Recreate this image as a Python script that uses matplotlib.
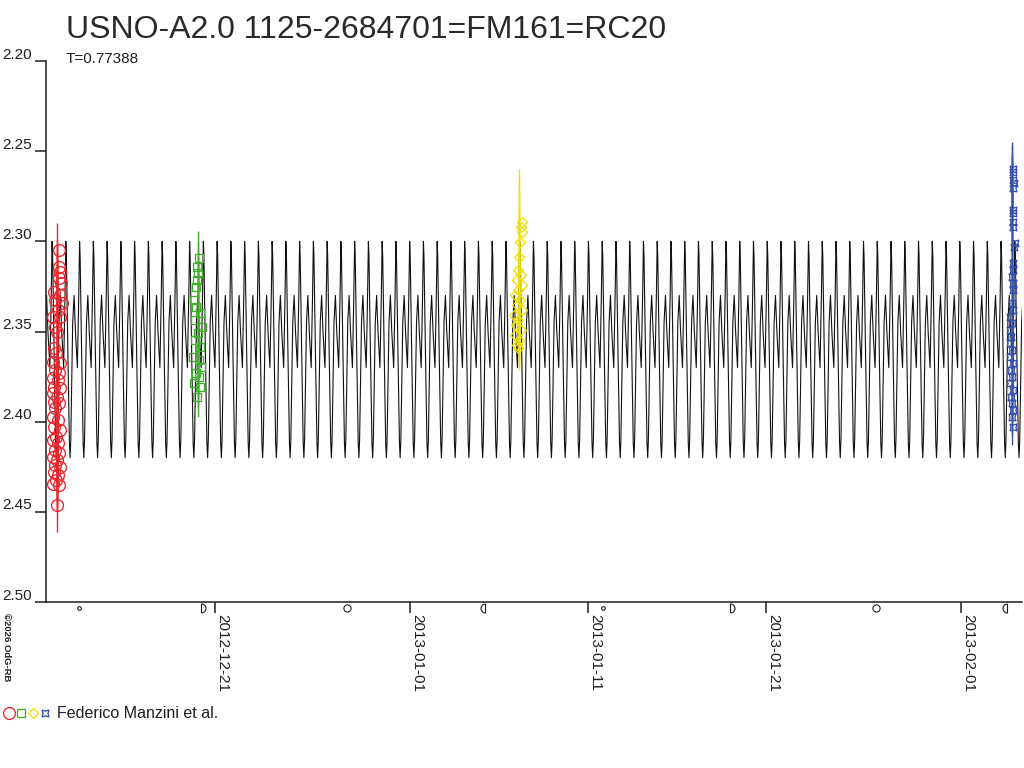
import numpy as np
import pandas as pd
import matplotlib
matplotlib.use("Agg")
import matplotlib.pyplot as plt
import matplotlib.dates as mdates
import matplotlib.transforms as mtransforms
from matplotlib.path import Path
from matplotlib.lines import Line2D

plt.rcParams['font.family'] = ['Liberation Sans', 'DejaVu Sans']

# ---------------- data ----------------
title = "USNO-A2.0 1125-2684701=FM161=RC20"
period_label = "T=0.77388"
period = 0.77388
observer = "Federico Manzini et al."
credit = "\u00a92026 OdG-RB"
base_date = "2012-12-01"          # times below are days since this date

x_range = [10.49, 65.41]
y_ticks = [2.20, 2.25, 2.30, 2.35, 2.40, 2.45, 2.50]
x_tick_labels = ["2012-12-21", "2013-01-01", "2013-01-11", "2013-01-21", "2013-02-01"]

# model light curve: one cycle template (phase, mag), epoch of main maximum
model_epoch = 22.44
model_phase = [0.00, 0.04, 0.15, 0.26, 0.31, 0.36, 0.50, 0.60, 0.70, 0.84, 0.94, 1.00]
model_mag = [2.300, 2.308, 2.362, 2.412, 2.420, 2.410, 2.345, 2.330, 2.350, 2.370, 2.330, 2.300]

red_t = [11.240, 11.240, 11.277, 11.240, 11.315, 10.940, 11.277, 10.996, 11.371, 11.183,
         10.902, 11.277, 10.996, 11.090, 10.940, 11.052, 10.865, 11.277, 10.996, 11.240,
         10.902, 11.183, 10.940, 11.277, 10.865, 11.090, 10.940, 11.240, 10.996, 10.865,
         11.183, 10.940, 11.277, 11.052, 10.902, 11.183, 10.996, 11.240, 10.902, 11.127,
         10.996, 11.277, 10.940, 11.183, 11.052, 10.902, 11.240, 11.090]
red_mag = [2.3048, 2.3141, 2.3168, 2.3205, 2.3233, 2.3279, 2.3298, 2.3326, 2.3344, 2.3381,
           2.3418, 2.3418, 2.3473, 2.3501, 2.3594, 2.3621, 2.3668, 2.3677, 2.3714, 2.3732,
           2.3760, 2.3769, 2.3806, 2.3815, 2.3843, 2.3862, 2.3889, 2.3899, 2.3926, 2.3972,
           2.3991, 2.4028, 2.4046, 2.4083, 2.4102, 2.4120, 2.4157, 2.4176, 2.4194, 2.4213,
           2.4241, 2.4250, 2.4278, 2.4296, 2.4324, 2.4343, 2.4352, 2.4463]
red_err = [0.015] * 48

green_t = [19.12, 19.01, 19.06, 18.97, 18.93, 18.82, 18.93, 19.16, 18.88, 19.25, 19.06,
           18.88, 19.16, 18.78, 19.12, 19.19, 18.93, 19.12, 18.82, 19.16, 18.97]
green_mag = [2.3095, 2.3141, 2.3178, 2.3215, 2.3252, 2.3326, 2.3363, 2.3400, 2.3437, 2.3473,
             2.3510, 2.3547, 2.3584, 2.3640, 2.3658, 2.3695, 2.3732, 2.3751, 2.3788, 2.3806,
             2.3862]
green_err = [0.015, 0.014, 0.013, 0.013, 0.012, 0.012, 0.012, 0.012, 0.012, 0.012, 0.012,
             0.012, 0.012, 0.012, 0.012, 0.012, 0.012, 0.012, 0.012, 0.012, 0.011]

yellow_t = [37.26, 37.20, 37.26, 37.16, 37.13, 37.07, 37.20, 36.98, 37.26, 37.07, 36.88,
            37.16, 36.98, 37.26, 36.83, 37.07, 36.93, 37.20, 36.88, 37.13, 36.98, 37.07]
yellow_mag = [2.2891, 2.2919, 2.2946, 2.3002, 2.3085, 2.3159, 2.3187, 2.3214, 2.3242, 2.3270,
              2.3298, 2.3325, 2.3353, 2.3381, 2.3408, 2.3436, 2.3464, 2.3492, 2.3519, 2.3547,
              2.3575, 2.3593]
yellow_err = [0.029, 0.026, 0.022, 0.018, 0.015, 0.012, 0.012, 0.012, 0.012, 0.012, 0.012,
              0.012, 0.012, 0.012, 0.012, 0.012, 0.012, 0.012, 0.012, 0.012, 0.012, 0.012]

blue_t = [64.93, 64.93, 64.93, 64.96, 64.93, 64.93, 64.90, 64.93, 64.93, 65.02, 64.96, 64.90,
          64.93, 64.83, 64.93, 64.90, 64.83, 64.93, 64.74, 64.83, 64.71, 64.78, 64.71, 64.83,
          64.74, 64.93, 64.78, 64.83, 64.74, 64.90, 64.78, 64.83, 64.93, 64.83, 64.90]
blue_mag = [2.2601, 2.2614, 2.2660, 2.2679, 2.2706, 2.2827, 2.2845, 2.2891, 2.2919, 2.3011,
            2.3030, 2.3122, 2.3159, 2.3196, 2.3233, 2.3270, 2.3344, 2.3381, 2.3418, 2.3455,
            2.3492, 2.3529, 2.3566, 2.3603, 2.3640, 2.3677, 2.3714, 2.3751, 2.3788, 2.3825,
            2.3862, 2.3899, 2.3936, 2.3973, 2.4028]
blue_err = [0.015] * 10 + [0.010] * 25

moon_new = ["2012-12-13 08:42", "2013-01-11 19:44"]
moon_first = ["2012-12-20 05:19", "2013-01-18 23:45"]
moon_full = ["2012-12-28 10:21", "2013-01-27 04:38"]
moon_last = ["2013-01-05 03:58", "2013-02-03 13:56"]

# ---------------- styles ----------------
RED, GREEN, YELLOW, BLUE = "#e8262c", "#3fae2a", "#f0e000", "#3550a6"
INK = "#1e1e1e"
base = mdates.date2num(pd.Timestamp(base_date).to_pydatetime())


def tx(t):
    return base + np.asarray(t, dtype=float)


def dnum(lst):
    return mdates.date2num(pd.to_datetime(lst).to_pydatetime())


fig = plt.figure(figsize=(10.24, 7.68), dpi=100)
L, R, T, B = 46, 1022, 61, 602
ax = fig.add_axes([L / 1024, 1 - B / 768, (R - L) / 1024, (B - T) / 768])

# model curve
n0 = int(np.floor((x_range[0] - model_epoch) / period)) - 1
n1 = int(np.ceil((x_range[1] - model_epoch) / period)) + 1
cyc = np.arange(n0, n1 + 1)
ph = np.array(model_phase[:-1])
mg = np.array(model_mag[:-1])
mt = (model_epoch + (cyc[:, None] + ph[None, :]) * period).ravel()
mm = np.tile(mg, len(cyc))
ax.plot(tx(mt), mm, color="#111111", lw=0.8, zorder=2)

MEW = 0.95
groups = [
    (red_t, red_mag, red_err, RED, dict(marker='o', ms=8.5)),
    (green_t, green_mag, green_err, GREEN, dict(marker='s', ms=5.5)),
    (yellow_t, yellow_mag, yellow_err, YELLOW, dict(marker='D', ms=5.5)),
    (blue_t, blue_mag, blue_err, BLUE, dict(marker=(4, 1, 45), ms=7)),
]
for t, m, e, c, mk in groups:
    tc = np.mean(t)
    ax.errorbar(tx(np.full(len(m), tc)), m, yerr=e, fmt='none', ecolor=c,
                elinewidth=1.0, capsize=0, zorder=3)
    ax.plot(tx(t), m, ls='none', mfc='none', mec=c, mew=MEW, zorder=4, **mk)

ax.set_xlim(tx(x_range[0]), tx(x_range[1]))
ax.set_ylim(y_ticks[-1], y_ticks[0])

for s in ['top', 'right']:
    ax.spines[s].set_visible(False)
for s in ['left', 'bottom']:
    ax.spines[s].set_linewidth(1.1)
    ax.spines[s].set_color(INK)

# y ticks (labels drawn slightly above each tick)
ax.set_yticks(y_ticks)
ax.set_yticklabels([])
ax.tick_params(axis='y', length=8, width=1.1, color=INK, direction='out')
for v in y_ticks:
    ax.annotate(f"{v:.2f}", xy=(0, v), xycoords=('axes fraction', 'data'),
                xytext=(-9.9, 1.7), textcoords='offset points',
                ha='right', va='baseline', fontsize=11, color=INK)

# x ticks
xt = dnum(x_tick_labels)
ax.set_xticks(xt)
ax.set_xticklabels(x_tick_labels, rotation=-90, ha='left', va='top', fontsize=11, color=INK)
ax.tick_params(axis='x', length=8, width=1.1, color=INK, direction='out', pad=0.5)

# moon phases below the axis
tr = mtransforms.blended_transform_factory(ax.transData, ax.transAxes)
d_right = Path.arc(-90, 90)
d_right = Path(np.vstack([d_right.vertices, d_right.vertices[:1]]),
               list(d_right.codes) + [Path.LINETO])
d_left = Path.arc(90, 270)
d_left = Path(np.vstack([d_left.vertices, d_left.vertices[:1]]),
              list(d_left.codes) + [Path.LINETO])
yb = -0.011
for dates, mk, ms in [(moon_new, 'o', 2.6), (moon_full, 'o', 5.2),
                      (moon_first, d_right, 6.5), (moon_last, d_left, 6.5)]:
    xs = dnum(dates)
    ax.plot(xs, [yb] * len(xs), ls='none', marker=mk, ms=ms, mfc='none', mec=INK,
            mew=0.8, transform=tr, clip_on=False)

# texts
fig.text(66 / 1024, 1 - 38.3 / 768, title, fontsize=23, color="#2a2a2a", va='baseline', ha='left')
fig.text(66 / 1024, 1 - 63.3 / 768, period_label, fontsize=11, color=INK, va='baseline', ha='left')
fig.text(2 / 1024, 1 - 613 / 768, credit, fontsize=6.8, color=INK, rotation=-90,
         ha='left', va='top', fontweight='bold')

# legend row
ly = 1 - 713.3 / 768
for xpx, c, mk in [(9, RED, dict(marker='o', ms=8.5)), (21.3, GREEN, dict(marker='s', ms=5.5)),
                   (33.3, YELLOW, dict(marker='D', ms=5.5)), (45, BLUE, dict(marker=(4, 1, 45), ms=7))]:
    fig.add_artist(Line2D([xpx / 1024], [ly], ls='none', mfc='none', mec=c, mew=MEW,
                          transform=fig.transFigure, **mk))
fig.text(57 / 1024, 1 - 717.5 / 768, observer, fontsize=11.5, color=INK, va='baseline', ha='left')

fig.savefig("out.png", dpi=100)
